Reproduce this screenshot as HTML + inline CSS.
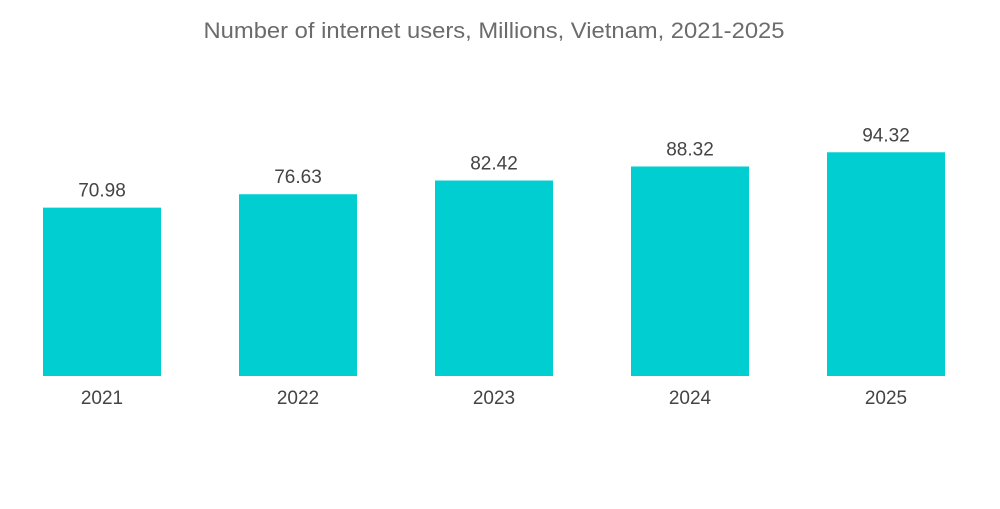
<!DOCTYPE html>
<html><head><meta charset="utf-8"><style>
body{margin:0;background:#fff;width:1000px;height:504px;overflow:hidden;font-family:"Liberation Sans",sans-serif}
</style></head><body>
<svg id="chart" width="1000" height="504" viewBox="0 0 1000 504">
<text x="494" y="38" text-anchor="middle" font-size="22" textLength="581" lengthAdjust="spacingAndGlyphs" fill="#6b6b6b" font-family="Liberation Sans, sans-serif">Number of internet users, Millions, Vietnam, 2021-2025</text>
<g id="bars"></g>
</svg>
<script>
const categories = ["2021","2022","2023","2024","2025"];
const values = [70.98, 76.63, 82.42, 88.32, 94.32];
const valueLabels = ["70.98","76.63","82.42","88.32","94.32"];
const baseY = 376, pxPerUnit = 2.372, firstX = 43, step = 196, barW = 118;
function y(v){return baseY - v*pxPerUnit;}
function x(i){return firstX + i*step;}
const g = document.getElementById('bars');
const ns = 'http://www.w3.org/2000/svg';
categories.forEach((c,i)=>{
  const r = document.createElementNS(ns,'rect');
  
  
  r.setAttribute('x',x(i)); r.setAttribute('y',y(values[i]));
  r.setAttribute('width',barW); r.setAttribute('height',baseY-y(values[i]));
  r.setAttribute('fill','#00ced1');
  g.appendChild(r);
  const t = document.createElementNS(ns,'text');
  
  
  t.setAttribute('x',x(i)+barW/2); t.setAttribute('y',y(values[i])-11);
  t.setAttribute('text-anchor','middle'); t.setAttribute('font-size','19'); t.setAttribute('fill','#444');
  t.textContent = valueLabels[i];
  g.appendChild(t);
  const a = document.createElementNS(ns,'text');
  
  
  a.setAttribute('x',x(i)+barW/2); a.setAttribute('y',404);
  a.setAttribute('text-anchor','middle'); a.setAttribute('font-size','19'); a.setAttribute('fill','#444');
  a.textContent = c;
  g.appendChild(a);
});
</script>
</body></html>
